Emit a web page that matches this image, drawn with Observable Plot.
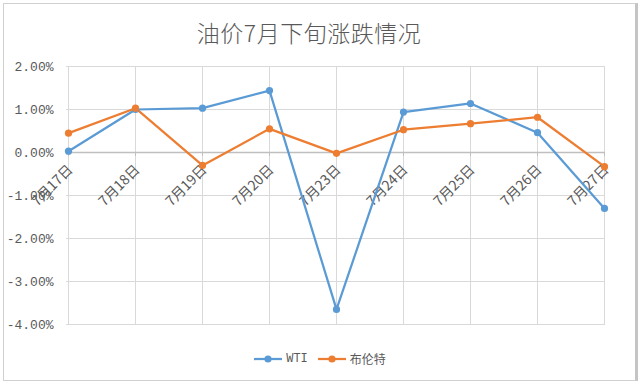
<!DOCTYPE html>
<html><head><meta charset="utf-8">
<script src="https://cdn.jsdelivr.net/npm/d3@7"></script>
<script src="https://cdn.jsdelivr.net/npm/@observablehq/plot@0.6"></script>
<style>
body{margin:0;background:#fff;}
#wrap{position:relative;width:640px;height:385px;overflow:hidden;font-family:"Noto Sans CJK SC",sans-serif;}
#frame{position:absolute;left:3px;top:3px;width:631px;height:376px;border:1px solid #d0d0d0;border-right:3px solid #c4c4c4;box-sizing:content-box;}
#title{position:absolute;left:0;width:618px;top:15px;text-align:center;font-size:23px;color:#595959;letter-spacing:0.5px;font-weight:300;}
#legend{position:absolute;left:0;width:640px;top:350px;display:flex;justify-content:center;gap:10px;font-size:12px;color:#595959;}
#legend .it{display:flex;align-items:center;gap:4px;}
#chart{position:absolute;left:0;top:0;}
</style></head>
<body><div id="wrap"><div id="frame"></div><div id="chart"></div><div id="title">油价7月下旬涨跌情况</div><div id="legend"></div></div>
<script>
const categories = ["7月17日","7月18日","7月19日","7月20日","7月23日","7月24日","7月25日","7月26日","7月27日"];
const wti = [0.0003, 0.0100, 0.0103, 0.0144, -0.0365, 0.0094, 0.0114, 0.0046, -0.0130];
const brent = [0.0045, 0.0103, -0.0030, 0.0055, -0.0002, 0.0053, 0.0067, 0.0082, -0.0033];
const seriesNames = ["WTI", "布伦特"];
const colors = ["#5B9BD5", "#ED7D31"];
const yTicks = [0.02, 0.01, 0, -0.01, -0.02, -0.03, -0.04];

const rows = [];
categories.forEach((c,i)=>{ rows.push({cat:c, v:wti[i], s:seriesNames[0]}); rows.push({cat:c, v:brent[i], s:seriesNames[1]}); });

const chart = Plot.plot({
  width: 640, height: 385,
  marginLeft: 66, marginRight: 35, marginTop: 66, marginBottom: 61,
  x: {type: "point", domain: categories, padding: 0, axis: null},
  y: {domain: [-0.04, 0.02], ticks: yTicks, tickFormat: d => (d*100).toFixed(2) + "%", tickSize: 0, tickPadding: 12, label: null},
  color: {domain: seriesNames, range: colors},
  style: {fontFamily: "'Liberation Mono', monospace", fontSize: "13px", color: "#595959", background: "transparent"},
  marks: [
    Plot.gridY(yTicks, {stroke: "#d9d9d9", strokeOpacity: 1, strokeWidth: 1}),
    Plot.gridX(categories, {stroke: "#d9d9d9", strokeOpacity: 1, strokeWidth: 1}),
    Plot.ruleY([0], {stroke: "#bfbfbf", strokeWidth: 1.5}),
    Plot.ruleX(categories, {x: d => d, y1: 0, y2: -0.0009, stroke: "#bfbfbf", strokeWidth: 1}),
    Plot.axisY({ticks: yTicks, tickFormat: d => (d*100).toFixed(2) + "%", tickSize: 0, tickPadding: 13, fill: "#595959", label: null}),
    Plot.text(categories, {x: d => d, y: () => 0, text: d => d, rotate: -45, textAnchor: "end", lineAnchor: "middle", dx: 2, dy: 15, fill: "#595959", fontSize: 14, fontFamily: "'Noto Sans CJK SC', serif"}),
    Plot.line(rows, {x: "cat", y: "v", stroke: "s", z: "s", strokeWidth: 2.25}),
    Plot.dot(rows, {x: "cat", y: "v", fill: "s", r: 3.6})
  ]
});
document.getElementById("chart").appendChild(chart);

const leg = document.getElementById("legend");
seriesNames.forEach((n,i)=>{
  const it = document.createElement("div"); it.className = "it";
  it.innerHTML = `<svg width="28" height="10"><line x1="0" x2="28" y1="5" y2="5" stroke="${colors[i]}" stroke-width="2.25"/><circle cx="14" cy="5" r="3.6" fill="${colors[i]}"/></svg><span style="${i===0?"font-family:'Liberation Mono',monospace":""}">${n}</span>`;
  leg.appendChild(it);
});
</script></body></html>
